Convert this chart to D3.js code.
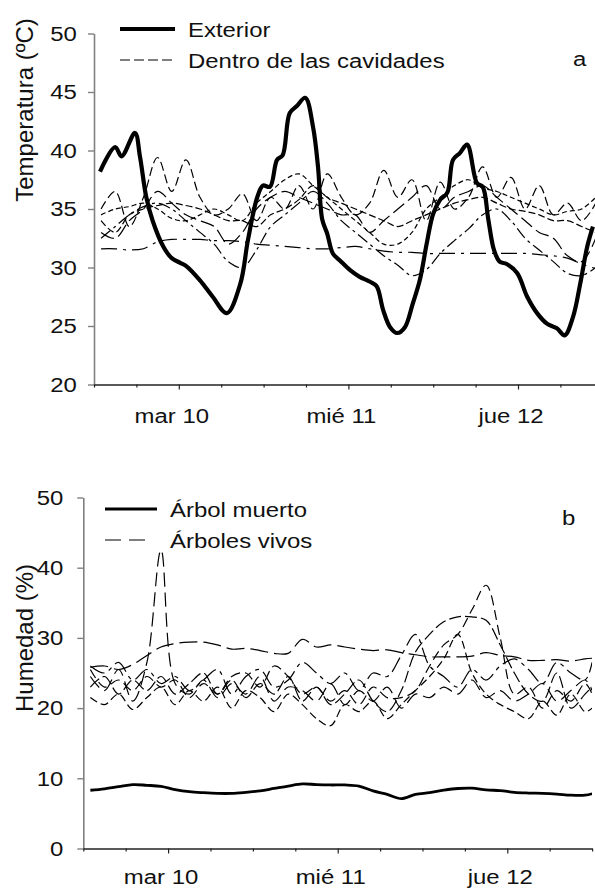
<!DOCTYPE html>
<html>
<head>
<meta charset="utf-8">
<script src="https://cdn.jsdelivr.net/npm/d3@7"></script>
<style>
  body { margin: 0; background: #fff; }
  svg text { font-family: "Liberation Sans", Arial, sans-serif; fill: #111; }
</style>
</head>
<body>
<svg id="chart" width="595" height="890"></svg>
<script>
// ---- data (hours counted from Mar 9, 12:00) ----
const dayTicks = [12, 36, 60];
const dayLabels = ["mar 10", "mié 11", "jue 12"];

// panel a: temperature
const tempTicks = [20, 25, 30, 35, 40, 45, 50];
const extHours = [0.85, 3.0, 3.9, 5.8, 6.5, 7.4, 8.3, 9.8, 11.0, 12.2, 13.1, 15.0, 16.8, 18.8,
  20.7, 21.8, 23.1, 23.9, 24.9, 25.9, 26.7, 27.7, 28.7, 29.9, 31.0, 31.7, 32.3, 33.0, 33.8,
  34.8, 36.2, 37.6, 39.0, 40.0, 40.9, 41.9, 42.9, 44.0, 45.1, 46.1, 47.1, 48.0, 49.0, 50.0,
  50.8, 51.8, 52.8, 54.2, 55.0, 55.8, 56.6, 57.4, 58.4, 59.9, 61.3, 62.7, 64.1, 65.5, 66.6,
  67.8, 68.8, 69.8, 70.6];
const extTemp = [38.2, 40.3, 39.5, 41.5, 39.5, 36.0, 34.0, 31.8, 30.8, 30.4, 30.1, 28.9, 27.5, 26.1,
  28.6, 32.4, 36.0, 37.0, 36.9, 39.2, 39.6, 43.2, 43.8, 44.5, 42.0, 38.6, 34.1, 32.9, 31.2,
  30.6, 29.8, 29.2, 28.8, 28.4, 26.4, 24.9, 24.4, 24.9, 26.9, 28.9, 32.1, 34.6, 35.8, 36.4,
  39.2, 39.8, 40.5, 37.2, 36.9, 34.1, 31.5, 30.5, 30.3, 29.5, 27.5, 26.1, 25.2, 24.8, 24.2,
  25.8, 28.6, 31.8, 33.5];

// cavity series, every 2 h
const cavHours = [1, 3, 5, 7, 9, 11, 13, 15, 17, 19, 21, 23, 25, 27, 29, 31, 33, 35,
  37, 39, 41, 43, 45, 47, 49, 51, 53, 55, 57, 59, 61, 63, 65, 67, 69, 71];
const cav1 = [31.6, 31.6, 31.5, 31.6, 32.2, 32.4, 32.4, 32.4, 32.3, 32.3, 32.2, 32.0, 31.9, 31.8,
  31.7, 31.6, 31.6, 31.7, 31.8, 31.6, 31.4, 31.3, 31.3, 31.2, 31.2, 31.2, 31.2, 31.2, 31.2, 31.2,
  31.2, 31.1, 31.0, 30.8, 30.3, 29.9];
const cav2 = [35.0, 36.5, 33.5, 36.0, 39.4, 36.5, 39.2, 36.0, 34.5, 35.0, 36.3, 34.0, 36.0, 35.0,
  37.0, 35.0, 38.0, 36.0, 34.5, 35.5, 38.3, 36.0, 37.5, 34.0, 37.3, 35.0, 36.0, 38.6, 36.0, 37.7,
  35.0, 37.0, 34.5, 35.5, 34.0, 35.5];
const cav3 = [32.5, 33.5, 34.5, 35.2, 35.5, 35.0, 34.0, 33.0, 32.0, 30.5, 30.0, 31.5, 33.5, 34.5,
  35.5, 36.5, 35.5, 34.0, 33.0, 32.0, 31.0, 30.2, 29.3, 29.8, 31.2, 32.3, 33.3, 34.5, 35.0, 34.0,
  32.5, 31.5, 30.5, 29.5, 29.3, 30.0];
const cav4 = [34.0, 33.0, 34.5, 35.0, 35.3, 35.5, 35.3, 35.0, 34.5, 34.0, 34.0, 33.5, 34.5, 35.0,
  35.8, 37.0, 36.0, 35.5, 35.0, 34.5, 34.0, 33.5, 34.0, 34.5, 35.0, 35.5, 35.8, 36.0, 35.5, 35.0,
  34.8, 34.5, 34.0, 34.0, 33.5, 33.0];
const cav5 = [33.0, 32.5, 34.0, 35.0, 36.5, 35.5, 34.5, 34.0, 33.5, 32.0, 33.0, 35.0, 36.0, 36.5,
  36.0, 35.5, 35.0, 34.5, 34.5, 33.0, 34.0, 35.0, 36.0, 37.0, 35.0, 36.0, 36.5, 37.0, 36.0, 35.0,
  34.0, 33.0, 32.5, 31.0, 30.5, 32.5];
const cav6 = [34.5, 35.0, 35.2, 35.5, 35.0, 34.2, 34.0, 34.5, 35.0, 34.5, 34.0, 35.5, 36.5, 37.5,
  38.0, 37.0, 36.0, 35.0, 34.0, 33.0, 32.0, 32.0, 33.0, 35.0, 36.0, 37.0, 37.5, 36.8, 36.5, 36.0,
  35.5, 35.0, 34.5, 34.8, 35.0, 36.0];
const cavSeries = [cav1, cav2, cav3, cav4, cav5, cav6];

// panel b: humidity
const humTicks = [0, 10, 20, 30, 40, 50];
const humHours = [1, 3, 5, 7, 9, 11, 13, 15, 17, 19, 21, 23, 25, 27, 29, 31, 33, 35,
  37, 39, 41, 43, 45, 47, 49, 51, 53, 55, 57, 59, 61, 63, 65, 67, 69, 71, 72];
const deadTree = [8.3, 8.5, 8.8, 9.1, 9.0, 8.85, 8.4, 8.1, 7.95, 7.85, 7.85, 8.0, 8.2, 8.55, 8.9,
  9.2, 9.1, 9.05, 9.05, 8.9, 8.2, 7.7, 7.1, 7.7, 7.95, 8.3, 8.55, 8.6, 8.35, 8.25, 8.0, 7.9,
  7.85, 7.75, 7.6, 7.6, 7.8];
const live1 = [24.5, 22.5, 25.5, 21.0, 26.5, 42.5, 23.5, 22.0, 24.0, 21.5, 23.5, 22.0, 24.5, 21.0,
  23.0, 22.5, 21.0, 23.5, 20.5, 22.5, 21.0, 23.0, 20.0, 22.0, 21.5, 23.0, 22.0, 24.0, 21.5, 22.5,
  21.0, 22.0, 23.5, 21.0, 22.5, 24.0, 22.5];
const live2 = [25.8, 26.0, 25.5, 26.2, 27.5, 28.7, 29.2, 29.4, 29.4, 29.0, 28.4, 28.5, 28.2, 27.8,
  27.8, 29.8, 28.7, 29.0, 28.7, 28.4, 28.2, 28.3, 27.9, 27.6, 27.3, 27.3, 27.3, 27.4, 27.9, 27.5,
  27.3, 26.8, 26.8, 26.9, 26.7, 27.0, 27.1];
const live3 = [25.5, 23.0, 24.0, 22.5, 24.5, 23.0, 24.0, 21.5, 23.5, 22.0, 24.5, 25.0, 23.0, 26.0,
  24.5, 22.0, 23.0, 21.0, 22.5, 20.5, 23.0, 21.5, 21.5, 22.5, 26.0, 29.0, 30.5, 34.0, 37.5, 30.0,
  22.0, 23.0, 20.0, 22.5, 21.0, 23.5, 22.0];
const live4 = [23.0, 24.5, 22.0, 24.0, 22.5, 24.5, 22.0, 23.5, 25.0, 22.0, 24.0, 21.5, 23.5, 22.0,
  24.5, 21.0, 23.0, 20.5, 22.0, 24.0, 21.0, 19.5, 22.5, 28.0, 30.5, 32.3, 33.0, 33.0, 32.5, 29.0,
  25.0, 22.0, 21.0, 25.0, 20.0, 22.0, 23.0];
const live5 = [21.5, 20.5, 22.0, 19.8, 21.5, 23.0, 20.5, 22.5, 21.0, 23.0, 20.0, 22.5, 21.5, 19.5,
  22.0, 20.5, 18.5, 17.5, 20.5, 19.5, 21.0, 18.5, 20.5, 22.5, 24.5, 27.0, 30.5, 25.0, 22.0, 20.5,
  19.5, 18.5, 21.0, 19.0, 22.0, 19.5, 20.0];
const live6 = [26.0, 25.0, 26.5, 24.0, 25.5, 23.5, 24.5, 22.5, 24.0, 25.5, 22.0, 24.5, 25.5, 23.0,
  24.0, 26.5, 25.0, 23.5, 25.0, 22.5, 25.0, 24.5, 27.5, 30.5, 26.0, 24.5, 23.0, 25.5, 24.0, 26.0,
  27.0, 25.5, 23.5, 26.5, 25.0, 24.0, 26.5];
const liveSeries = [live1, live2, live3, live4, live5, live6];

// ---- drawing ----
const SX = 1.14;      // the original figure is stretched horizontally
const FS = "21px";
const cavDash = ["16,6,3,6", "9,4", "12,4,3,4", "7,3", "14,5", "5,3"];
const liveDash = ["14,6", "18,6", "10,5", "12,4", "8,4", "16,5,4,5"];

const svg = d3.select("#chart");

function stext(g, x, y, str, anchor) {
  return g.append("text")
    .attr("transform", `translate(${x},${y}) scale(${SX},1)`)
    .attr("text-anchor", anchor || "start")
    .style("font-size", FS)
    .text(str);
}

function drawPanel(cfg) {
  const g = svg.append("g");
  const x = d3.scaleLinear().domain([0, 72]).range([cfg.left, cfg.left + 508.8]);
  const y = d3.scaleLinear().domain(cfg.yDomain).range([cfg.bottom, cfg.top]);

  g.append("defs").append("clipPath").attr("id", cfg.id + "clip")
    .append("rect").attr("x", cfg.left).attr("y", cfg.top - 5)
    .attr("width", 508.8).attr("height", cfg.bottom - cfg.top + 5);

  // y axis
  const ya = g.append("g")
    .attr("transform", `translate(${cfg.left},0)`)
    .call(d3.axisLeft(y).tickValues(cfg.yTicks).tickSize(6).tickSizeOuter(0).tickPadding(cfg.yPad));
  ya.select(".domain").attr("stroke", "#808080").attr("stroke-width", 1.6);
  ya.selectAll(".tick line").attr("stroke", "#808080").attr("stroke-width", 1.4);
  ya.selectAll(".tick text")
    .attr("transform", `scale(${SX},1)`)
    .style("font-size", FS).attr("fill", "#111");

  // x axis
  const xa = g.append("g")
    .attr("transform", `translate(0,${cfg.bottom})`)
    .call(d3.axisBottom(x).tickValues(d3.range(0, 73, 6)).tickFormat("").tickSize(3).tickSizeOuter(0));
  xa.select(".domain").attr("stroke", "#222").attr("stroke-width", 1.4);
  xa.selectAll(".tick line").attr("stroke", "#222").attr("stroke-width", 1.2)
    .attr("y2", d => dayTicks.includes(d) ? 5 : 3);
  dayTicks.forEach((d, i) => stext(g, x(d) - 7, cfg.labelY, dayLabels[i], "middle"));

  // series
  const plot = g.append("g").attr("clip-path", `url(#${cfg.id}clip)`);
  cfg.dashed.forEach((vals, i) => {
    const line = d3.line().x((d, j) => x(cfg.dashHours[j])).y(d => y(d)).curve(d3.curveCatmullRom);
    plot.append("path").datum(vals)
      .attr("d", line).attr("fill", "none").attr("stroke", "#000")
      .attr("stroke-width", 1.2).attr("stroke-dasharray", cfg.dashes[i]);
  });
  const sline = d3.line().x((d, j) => x(cfg.solidHours[j])).y(d => y(d)).curve(d3.curveCatmullRom);
  plot.append("path").datum(cfg.solid)
    .attr("d", sline).attr("fill", "none").attr("stroke", "#000")
    .attr("stroke-width", cfg.solidWidth).attr("stroke-linejoin", "round");

  // legend
  const lg = cfg.legend;
  g.append("line").attr("x1", lg.x1).attr("x2", lg.x2).attr("y1", lg.y1).attr("y2", lg.y1)
    .attr("stroke", "#000").attr("stroke-width", cfg.solidWidth);
  stext(g, lg.tx, lg.y1 + 8, lg.t1);
  g.append("line").attr("x1", lg.x1).attr("x2", lg.x2b).attr("y1", lg.y2).attr("y2", lg.y2)
    .attr("stroke", "#000").attr("stroke-width", 1.2).attr("stroke-dasharray", lg.dash);
  stext(g, lg.tx, lg.y2 + 8, lg.t2);
  stext(g, cfg.tag[0], cfg.tag[1], cfg.tag[2]);

  // y title
  g.append("text")
    .attr("transform", `translate(${cfg.titleX},${cfg.titleY}) rotate(-90)`)
    .attr("text-anchor", "middle").style("font-size", "24px")
    .text(cfg.title);
}

drawPanel({
  id: "a", left: 94, top: 33.5, bottom: 384.5, yDomain: [20, 50], yTicks: tempTicks, yPad: 9,
  labelY: 423, dashed: cavSeries, dashHours: cavHours, dashes: cavDash,
  solid: extTemp, solidHours: extHours, solidWidth: 4.2,
  legend: { x1: 120, x2: 175, x2b: 172, y1: 29, y2: 60, tx: 188, dash: "10,4",
            t1: "Exterior", t2: "Dentro de las cavidades" },
  tag: [573, 66, "a"], title: "Temperatura (ºC)", titleX: 33, titleY: 110
});

drawPanel({
  id: "b", left: 83.3, top: 497.5, bottom: 848.5, yDomain: [0, 50], yTicks: humTicks, yPad: 11.5,
  labelY: 884, dashed: liveSeries, dashHours: humHours, dashes: liveDash,
  solid: deadTree, solidHours: humHours, solidWidth: 2.8,
  legend: { x1: 105, x2: 157, x2b: 152, y1: 509, y2: 540, tx: 170, dash: "16,8",
            t1: "Árbol muerto", t2: "Árboles vivos" },
  tag: [562, 525, "b"], title: "Humedad (%)", titleX: 33, titleY: 638
});
</script>
</body>
</html>
